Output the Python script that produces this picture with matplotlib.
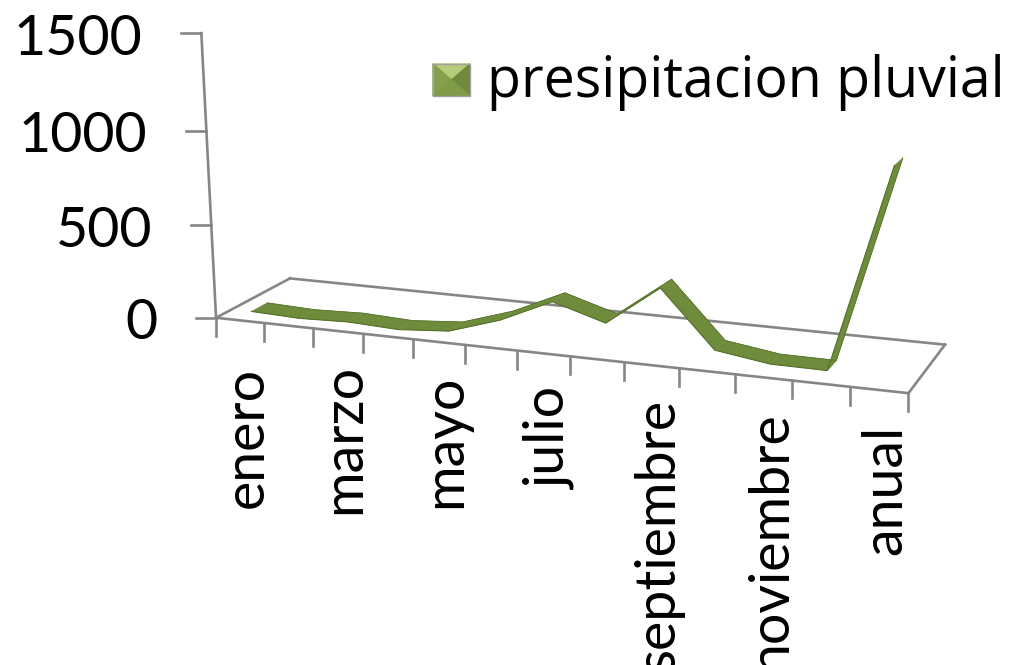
#!/usr/bin/env python3
# -*- coding: utf-8 -*-
import numpy as np
import matplotlib
matplotlib.use('Agg')
import matplotlib.pyplot as plt
from matplotlib.transforms import Transform

# data
meses = ['enero', 'febrero', 'marzo', 'abril', 'mayo', 'junio', 'julio',
         'agosto', 'septiembre', 'octubre', 'noviembre', 'diciembre', 'anual']
lluvia = [15, 5, 14, 2, 23, 110, 235, 152, 360, 71, 30, 28, 1060]
serie = 'presipitacion pluvial'
yticks = [0, 500, 1000, 1500]
ymax = 1500
n = len(meses)

gris = '#868686'
verde = '#6f8b3c'
verde_osc = '#55702a'
fuente = 'Lato'

# camera: (category, value/ymax, depth) -> pixel, fitted on the box corners and ticks
tick_px = [217, 264.7, 313, 362.7, 413, 465, 517, 570, 624, 679, 735, 792, 850, 908]
mundo = [(i, 0, 0) for i in range(14)]
pixel = [(u, 318 + (u - 217)*75/691) for u in tick_px]
mundo += [(0, 0, 1), (13, 0, 1), (0, 1, 0), (0, 2/3, 0), (0, 1/3, 0)]
pixel += [(290, 278), (945, 345), (202, 33), (206, 131), (210, 225)]
P = np.append(np.zeros(11), 1).reshape(3, 4)
for it in range(8):
    A = []
    b = []
    for (x, z, d), (u, w) in zip(mundo, pixel):
        # reweight so the residuals are in pixels
        s = 1/(P[2] @ [x, z, d, 1])
        A.append([s*c for c in [x, z, d, 1, 0, 0, 0, 0, -u*x, -u*z, -u*d]])
        A.append([s*c for c in [0, 0, 0, 0, x, z, d, 1, -w*x, -w*z, -w*d]])
        b += [s*u, s*w]
    sol = np.linalg.lstsq(np.array(A, float), np.array(b, float), rcond=None)[0]
    P = np.append(sol, 1).reshape(3, 4)


class Plano(Transform):
    # plane at a fixed depth of the 3D box, (category, value) -> pixel
    input_dims = 2
    output_dims = 2

    def __init__(self, prof=0.0):
        super().__init__()
        self.prof = prof

    def transform_non_affine(self, values):
        values = np.asarray(values, float)
        x, v = values[:, 0], values[:, 1]
        h = np.c_[x, v/ymax, np.full_like(x, self.prof), np.ones_like(x)] @ P.T
        return h[:, :2]/h[:, 2:]


fig = plt.figure(figsize=(10.11, 6.65), dpi=100)
ax = fig.add_axes([0, 0, 1, 1])
ax.set_xlim(0, 1011)
ax.set_ylim(665, 0)
ax.axis('off')

frente = Plano(0) + ax.transData
lw_ax = 1.9

# floor of the box
ax.plot([0, n], [0, 0], color=gris, lw=lw_ax, transform=frente)
ax.plot([0, n], [0, 0], color=gris, lw=lw_ax, transform=Plano(1) + ax.transData)
izq = Plano(0).transform([[0, 0]])[0]
der = Plano(0).transform([[n, 0]])[0]
fondo_izq = Plano(1).transform([[0, 0]])[0]
fondo_der = Plano(1).transform([[n, 0]])[0]
ax.plot([izq[0], fondo_izq[0]], [izq[1], fondo_izq[1]], color=gris, lw=lw_ax)
ax.plot([der[0], fondo_der[0]], [der[1], fondo_der[1]], color=gris, lw=lw_ax)

# value axis
ax.plot([0, 0], [0, ymax], color=gris, lw=lw_ax, transform=frente)
for t in yticks:
    px, py = Plano(0).transform([[0, t]])[0]
    ax.plot([px - 20, px], [py, py], color=gris, lw=lw_ax)
    ax.text(px - 59, py + 6, str(t), ha='right', va='center', fontsize=40,
            family=fuente, color='k')

# category ticks
for i in range(n + 1):
    px, py = Plano(0).transform([[i, 0]])[0]
    ax.plot([px, px], [py, py + 18], color=gris, lw=lw_ax)

# category labels, every second one: baseline right of the category, end of word at y
fin_y = [367, 364, 375, 387, 399, 411, 425]
for j, i in enumerate(range(0, n, 2)):
    px, py = Plano(0).transform([[i + 0.5, 0]])[0]
    ax.text(px + 22.5, fin_y[j], meses[i], rotation=90, rotation_mode='anchor',
            ha='right', va='baseline', fontsize=40, family=fuente, color='k')

# ribbon
xs = np.arange(n) + 0.5
pts = np.c_[xs, lluvia]
f = Plano(0.15).transform(pts)
t = Plano(0.36).transform(pts)
for i in range(n - 1):
    q = np.array([f[i], f[i + 1], t[i + 1], t[i]])
    ax.fill(q[:, 0], q[:, 1], color=verde, lw=0.3, zorder=3)
ax.plot(f[:, 0], f[:, 1], color=verde_osc, lw=0.8, zorder=4)
ax.plot(t[:, 0], t[:, 1], color=verde_osc, lw=0.6, zorder=4)

# legend
x0, x1, y0, y1 = 433, 470, 64, 96
cx, cy = (x0 + x1)/2, (y0 + y1)/2
ax.fill([x0, x1, cx], [y0, y0, cy], color='#b5cc7a', zorder=3)
ax.fill([x0, cx, x0], [y0, cy, y1], color='#84a04c', zorder=3)
ax.fill([x1, cx, x1], [y0, cy, y1], color='#6f8a3c', zorder=3)
ax.fill([x0, x1, cx], [y1, y1, cy], color='#7f9b48', zorder=3)
ax.plot([x0, x1, x1, x0, x0], [y0, y0, y1, y1, y0], color='#a0a0a0', lw=1, zorder=4)
ax.text(487, 97, serie, ha='left', va='baseline', fontsize=40, family='Open Sans', color='k')

plt.savefig('out.png', dpi=100)
